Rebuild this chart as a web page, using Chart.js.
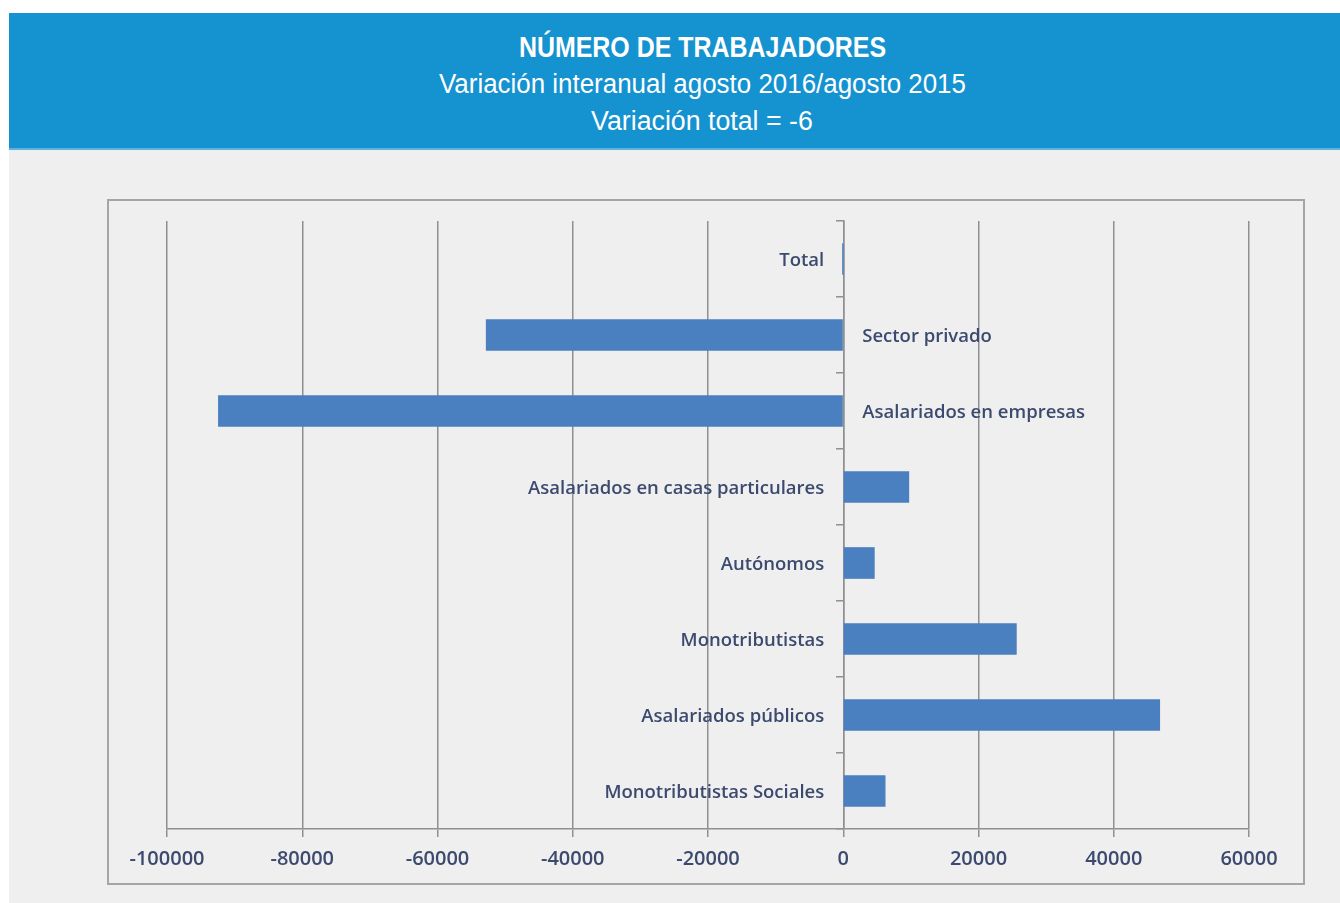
<!DOCTYPE html>
<html>
<head>
<meta charset="utf-8">
<script src="https://cdn.jsdelivr.net/npm/chart.js@4/dist/chart.umd.min.js"></script>
<style>
    body { margin: 0; background: #ffffff; width: 1340px; height: 903px; overflow: hidden; position: relative; }
    #panel { position: absolute; left: 9px; top: 13px; right: 0; bottom: 0; background: #efefef; }
    #header {
        position: absolute; left: 9px; top: 13px; width: 1331px; height: 137px;
        background: #1592d0; border-bottom: 2px solid #5fb2e0; box-sizing: border-box;
        color: #ffffff; text-align: center; padding-left: 55px;
        font-family: "Liberation Sans", Arial, sans-serif;
    }
    #header div { line-height: 37px; }
    #header span { display: inline-block; transform-origin: center; }
    #header .l1 { font-size: 29px; font-weight: bold; margin-top: 16px; }
    #header .l1 span { transform: scaleX(0.86); }
    #header .l2 { font-size: 27px; }
    #header .l2 span { transform: scaleX(0.96); }
    #header .l3 { font-size: 27px; }
    #header .l3 span { transform: scaleX(0.99); }
    #box {
        position: absolute; left: 107px; top: 199px; width: 1198px; height: 686px;
        border: 2px solid #a5a5a8; box-sizing: border-box;
    }
</style>
</head>
<body>
<div id="panel"></div>
<div id="header">
    <div class="l1"><span>NÚMERO DE TRABAJADORES</span></div>
    <div class="l2"><span>Variación interanual agosto 2016/agosto 2015</span></div>
    <div class="l3"><span>Variación total = -6</span></div>
</div>
<div id="box"><canvas id="workersChart"></canvas></div>
<script>
const workersChart = document.getElementById('workersChart').getContext('2d');

const categories = [
    'Total', 'Sector privado', 'Asalariados en empresas', 'Asalariados en casas particulares',
    'Autónomos', 'Monotributistas', 'Asalariados públicos', 'Monotributistas Sociales'
];
const variation = [-6, -52800, -92400, 9700, 4600, 25600, 46800, 6200];
const xTicks = [-100000, -80000, -60000, -40000, -20000, 0, 20000, 40000, 60000];

const lineColor = '#909094';
const textColor = '#3b4a6e';
const labelFont = '600 18.5px "Open Sans", sans-serif';

// category names written next to the zero line, on the side away from the bar
const barLabels = {
    id: 'barLabels',
    afterDatasetsDraw(chart) {
        const { ctx } = chart;
        const meta = chart.getDatasetMeta(0);
        const zero = chart.scales.x.getPixelForValue(0);
        ctx.save();
        ctx.font = labelFont;
        ctx.fillStyle = textColor;
        ctx.textBaseline = 'middle';
        meta.data.forEach((bar, i) => {
            const v = variation[i];
            if (Math.round(v / 1000) < 0) {
                ctx.textAlign = 'left';
                ctx.fillText(categories[i], zero + 19, bar.y + 2);
            } else {
                ctx.textAlign = 'right';
                ctx.fillText(categories[i], zero - 19, bar.y + 2);
            }
        });
        ctx.restore();
    }
};

new Chart(workersChart, {
    type: 'bar',
    data: {
        labels: categories,
        datasets: [{
            data: variation,
            backgroundColor: '#4a7fc0',
            borderWidth: 0,
            barThickness: 31
        }]
    },
    plugins: [barLabels],
    options: {
        indexAxis: 'y',
        responsive: true,
        maintainAspectRatio: false,
        animation: false,
        layout: {
            padding: { left: 58, right: 54, top: 20, bottom: 0 }
        },
        plugins: {
            legend: { display: false },
            tooltip: { enabled: false }
        },
        scales: {
            x: {
                min: -100000,
                max: 60000,
                afterBuildTicks: (scale) => {
                    scale.ticks = xTicks.map(v => ({ value: v }));
                },
                afterFit: (scale) => {
                    scale.height = 54;
                },
                grid: {
                    color: lineColor,
                    lineWidth: 1.5,
                    tickLength: 8
                },
                border: { color: lineColor, width: 1.5 },
                ticks: {
                    color: textColor,
                    font: { family: 'Open Sans', size: 20, weight: '600' },
                    padding: 10,
                    maxRotation: 0,
                    autoSkip: false,
                    callback: (value) => String(value)
                }
            },
            y: {
                position: { x: 0 },
                grid: {
                    offset: true,
                    drawOnChartArea: false,
                    color: lineColor,
                    lineWidth: 1.5,
                    tickLength: 7
                },
                border: { color: lineColor, width: 1.5 },
                ticks: { display: false }
            }
        }
    }
});
</script>
</body>
</html>
